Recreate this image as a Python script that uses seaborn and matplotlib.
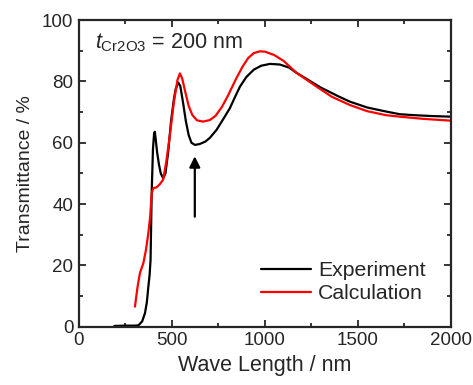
import pandas as pd
import matplotlib
matplotlib.use("Agg")
import matplotlib.pyplot as plt
import seaborn as sns
from matplotlib.ticker import MultipleLocator

# measured transmittance (black)
wl_exp = [190, 250, 300, 320, 340, 355, 365, 373, 380, 385, 391, 398, 404, 408,
          413, 420, 430, 440, 453, 465, 480, 495, 510, 520, 534, 545, 560, 575,
          590, 605, 624, 650, 680, 704, 740, 775, 812, 840, 866, 900, 940, 980,
          1027, 1080, 1130, 1170, 1230, 1300, 1400, 1457, 1550, 1650, 1726, 1800,
          1900, 2000]
t_exp = [0.3, 0.4, 0.4, 0.5, 1.8, 4.5, 8, 13, 17, 21.8, 43.6, 58, 63, 63.6,
         61, 57, 53, 50, 48.4, 50, 57, 67, 74, 77.5, 79.6, 78.5, 73, 67,
         62.5, 60, 59.3, 59.6, 60.4, 61.6, 64.2, 67.6, 71.3, 75, 78.3, 81.4, 83.8, 85.1,
         85.7, 85.5, 84.5, 82.8, 80.6, 78, 75, 73.4, 71.5, 70.2, 69.3, 69,
         68.7, 68.5]

# calculated transmittance (red)
wl_calc = [301, 315, 328, 346, 360, 373, 383, 391, 400, 418, 435, 453, 470, 490,
           510, 530, 543, 555, 570, 590, 610, 635, 668, 704, 735, 770, 800, 848,
           880, 910, 940, 973, 1000, 1050, 1100, 1170, 1278, 1360, 1457, 1550,
           1650, 1726, 1850, 2000]
t_calc = [6.6, 13, 17.6, 20.7, 25, 30.5, 36, 43.5, 45.2, 45.5, 46.5, 48, 54, 63,
          73, 80.5, 82.6, 81, 77, 72, 69, 67.3, 66.9, 67.4, 68.8, 71.8, 75.2, 81.2,
          84.8, 87.6, 89.2, 89.8, 89.7, 88.6, 86.7, 82.8, 78.3, 75, 72.3, 70.3,
          69, 68.5, 67.8, 67.2]

exp_df = pd.DataFrame({'wl': wl_exp, 't': t_exp})
calc_df = pd.DataFrame({'wl': wl_calc, 't': t_calc})

sns.set_style("ticks")
plt.rcParams['font.family'] = ['Liberation Sans', 'DejaVu Sans']
plt.rcParams['mathtext.fontset'] = 'custom'
plt.rcParams['mathtext.rm'] = 'Liberation Sans'
plt.rcParams['mathtext.it'] = 'Liberation Sans:italic'

fig = plt.figure(figsize=(4.73, 3.85), dpi=100)
ax = fig.add_axes([0.167, 0.151, 0.786, 0.797])

sns.lineplot(data=exp_df, x='wl', y='t', color='black', lw=1.6, ax=ax,
             label='Experiment', sort=False)
sns.lineplot(data=calc_df, x='wl', y='t', color='red', lw=1.6, ax=ax,
             label='Calculation', sort=False)

ax.set_xlim(0, 2000)
ax.set_ylim(0, 100)
ax.xaxis.set_major_locator(MultipleLocator(500))
ax.xaxis.set_minor_locator(MultipleLocator(250))
ax.yaxis.set_major_locator(MultipleLocator(20))
ax.yaxis.set_minor_locator(MultipleLocator(10))
ax.tick_params(which='both', direction='in', top=True, right=True,
               width=1.3, labelsize=13.5, pad=4)
ax.tick_params(which='major', length=5)
ax.tick_params(which='minor', length=3)
for s in ax.spines.values():
    s.set_linewidth(1.6)

ax.set_xlabel('Wave Length / nm', fontsize=15.5, labelpad=4)
ax.set_ylabel('Transmittance / %', fontsize=14, labelpad=6)

ax.text(0.043, 0.925, r'$t_{\rm Cr2O3}$ = 200 nm', transform=ax.transAxes,
        fontsize=15.5, va='center', ha='left')

ax.annotate('', xy=(623, 56.5), xytext=(623, 35),
            arrowprops=dict(arrowstyle='-|>', color='black', lw=1.6,
                            mutation_scale=16))

ax.legend(loc='lower right', bbox_to_anchor=(0.966, 0.035), frameon=False,
          fontsize=15.3, handlelength=2.35, handletextpad=0.3, labelspacing=0.2,
          borderaxespad=0.2)

fig.savefig('out.png', dpi=100)
